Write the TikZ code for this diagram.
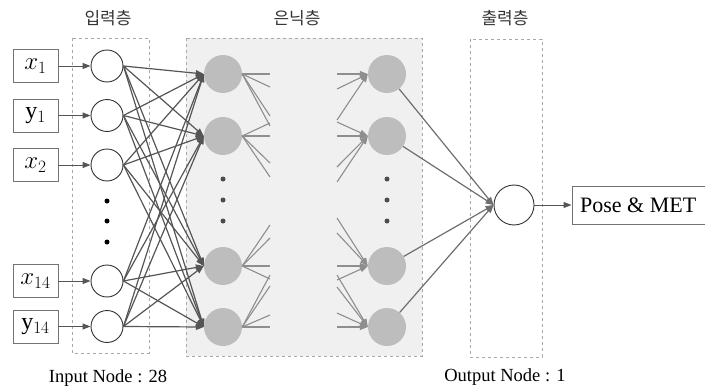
\documentclass[tikz,border=0pt]{standalone}
\usepackage{fontspec}
\setmainfont{Liberation Serif}
\newfontfamily\kr{Noto Sans CJK KR}
\usetikzlibrary{arrows.meta}
\definecolor{edgec}{HTML}{555555}
\definecolor{partc}{HTML}{8E8E8E}
\definecolor{hidfill}{HTML}{BDBDBD}
\definecolor{panel}{HTML}{F0F0F0}
\definecolor{dashc}{HTML}{A8A8A8}
\tikzset{
  inbox/.style={draw=gray!90!black, fill=white, minimum width=45pt, minimum height=33pt, inner sep=0pt, font=\fontsize{24}{24}\selectfont},
  incirc/.style={circle, draw=black!80, line width=0.9pt, fill=white, minimum size=32pt, inner sep=0pt},
  hidcirc/.style={circle, fill=hidfill, minimum size=38pt, inner sep=0pt},
  layerbox/.style={draw=dashc, dashed, line width=0.8pt},
  conn/.style={draw=edgec, line width=1.2pt, -{Triangle[length=8pt,width=6pt]}},
  part/.style={draw=partc, line width=1.1pt},
  partin/.style={draw=partc, line width=1.1pt, -{Triangle[length=8pt,width=6pt]}},
  dotn/.style={circle, fill=#1, minimum size=5pt, inner sep=0pt},
  hdr/.style={font=\kr\fontsize{17}{17}\selectfont, text=black!80},
  foot/.style={font=\fontsize{18.5}{18.5}\selectfont},
}
\begin{document}
\begin{tikzpicture}[x=1pt,y=-1pt]
\useasboundingbox (0,0) rectangle (705,388);
% layer panels
\draw[layerbox] (72,38) rectangle (149,353);
\draw[layerbox, fill=panel] (186,38) rectangle (422,356);
\draw[layerbox] (470,39) rectangle (542,357);
% headers
\node[hdr] (h1) at (108,18) {입력층};
\node[hdr] (h2) at (297,18) {은닉층};
\node[hdr] (h3) at (505,18) {출력층};
% input boxes
\node[inbox] (b1) at (35.5,66) {$x_1$};
\node[inbox] (b2) at (35.5,115.5) {$\mathrm{y}_1$};
\node[inbox] (b3) at (35.5,165) {$x_2$};
\node[inbox] (b4) at (35.5,281) {$x_{14}$};
\node[inbox] (b5) at (35.5,326.5) {$\mathrm{y}_{14}$};
% input circles
\foreach \i/\y in {1/66,2/115.5,3/165,4/281,5/326.5}{
  \node[incirc] (i\i) at (107,\y) {};
  \draw[conn, line width=1pt] (b\i) -- (i\i);
}
\node[dotn=black] (d1) at (107,201) {};
\node[dotn=black] (d2) at (107,221) {};
\node[dotn=black] (d3) at (107,242) {};
% hidden nodes
\foreach \j/\y in {1/74,2/136,3/266,4/327}{
  \node[hidcirc] (a\j) at (223,\y) {};
  \node[hidcirc] (c\j) at (387,\y) {};
}
\foreach \k/\y in {1/179,2/200,3/221}{
  \node[dotn=black!70] (e\k) at (223,\y) {};
  \node[dotn=black!70] (f\k) at (387,\y) {};
}
% input -> hidden col 1
\foreach \i in {1,...,5}{
  \foreach \j in {1,...,4}{
    \draw[conn] (i\i.east) -- (a\j.west);
  }
}
% partial outgoing lines from col 1
\foreach \j/\y/\dl in {1/74/{0,13,42,52},2/136/{0,-13,27,41},3/266/{0,13,-28,-41},4/327/{0,-12,-41,-52}}{
  \foreach \d [count=\n] in \dl{
    \coordinate (q\j\n) at (270,\y+\d);
    \draw[part] (a\j.east) -- (q\j\n);
  }
}
% partial incoming lines to col 2
\foreach \j/\y/\dl in {1/74/{0,15,46},2/136/{-14,0,31,46},3/266/{-48,-33,0,14},4/327/{-52,-40,-14,0}}{
  \foreach \d [count=\n] in \dl{
    \coordinate (r\j\n) at (337,\y+\d);
    \draw[partin] (r\j\n) -- (c\j.west);
  }
}
% output
\node[incirc, minimum size=40pt] (o) at (514,205) {};
\foreach \j in {1,...,4}{
  \draw[conn, draw=edgec!85] (c\j) -- (o.west);
}
\node[draw=gray!90!black, fill=white, anchor=west, minimum height=38pt, minimum width=133pt, inner sep=0pt, font=\fontsize{22}{22}\selectfont] (res) at (571.5,205) {Pose \& MET};
\draw[conn, line width=1pt] (o) -- (res);
% footers
\node[foot] (fi) at (108,378) {Input Node : 28};
\node[foot] (fo) at (505,377) {Output Node : 1};
\end{tikzpicture}
\end{document}
